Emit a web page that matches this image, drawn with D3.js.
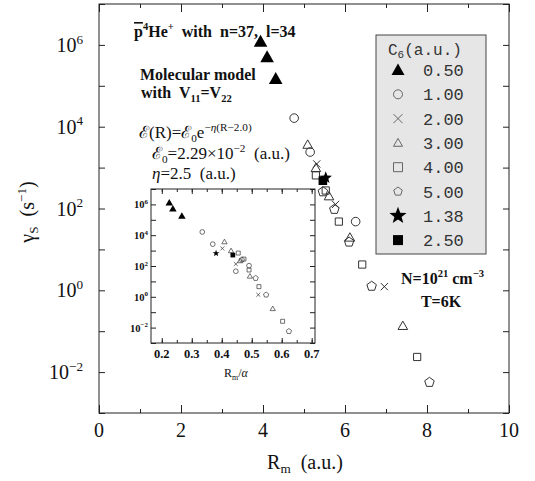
<!DOCTYPE html>
<html>
<head>
<meta charset="utf-8">
<script src="https://cdnjs.cloudflare.com/ajax/libs/d3/7.8.5/d3.min.js"></script>
<style>
  body { margin: 0; background: #fff; }
  text { font-family: "Liberation Serif", "Times New Roman", serif; fill: #111; }
</style>
</head>
<body>
<svg width="535" height="481"></svg>
<script>
// legend / series (C6 in a.u.)
var seriesLabels = ["0.50", "1.00", "2.00", "3.00", "4.00", "5.00", "1.38", "2.50"];
var seriesShapes = ["triangle", "circle", "cross", "triangle", "square", "pentagon", "star", "square"];
var seriesFilled = [true, false, false, false, false, false, true, true];

// main panel: Rm (a.u.) and log10(gamma_S)
var mainRm = [
  [3.94, 4.10, 4.31],
  [4.76, 5.15, 6.26],
  [5.31, 5.77, 6.96],
  [5.09, 5.29, 5.61, 6.12, 7.41],
  [5.29, 5.53, 5.85, 6.42, 7.76],
  [5.46, 5.74, 6.10, 6.65, 8.06],
  [5.53],
  [5.46]
];
var mainLogG = [
  [6.08, 5.70, 5.17],
  [4.21, 3.38, 1.68],
  [3.09, 2.10, 0.09],
  [3.56, 2.99, 2.30, 1.29, -0.87],
  [2.81, 2.44, 1.68, 0.63, -1.63],
  [2.41, 1.98, 1.18, 0.10, -2.25],
  [2.75],
  [2.68]
];

// inset: Rm/alpha and log10(gamma_S)
var insetR = [
  [0.225, 0.237, 0.267],
  [0.335, 0.370, 0.447, 0.491],
  [0.402, 0.447, 0.522],
  [0.409, 0.431, 0.461, 0.494, 0.570],
  [0.455, 0.474, 0.491, 0.524, 0.603],
  [0.467, 0.513, 0.548, 0.624],
  [0.381],
  [0.437]
];
var insetLogG = [
  [6.11, 5.72, 5.25],
  [4.21, 3.42, 1.66, 2.02],
  [3.14, 2.13, 0.13],
  [3.57, 2.99, 2.34, 1.34, -0.77],
  [2.84, 2.45, 1.74, 0.66, -1.59],
  [2.41, 1.21, 0.13, -2.24],
  [2.82],
  [2.71]
];

var xTicks = [0, 2, 4, 6, 8, 10];
var yTickExp = [-2, 0, 2, 4, 6];
var insetXTicks = [0.2, 0.3, 0.4, 0.5, 0.6, 0.7];

var svg = d3.select("svg");

// symbol paths
function sym(shape, r) {
  if (shape == "circle") return d3.symbol().type(d3.symbolCircle).size(Math.PI * r * r)();
  if (shape == "square") return "M" + (-r) + "," + (-r) + "H" + r + "V" + r + "H" + (-r) + "Z";
  if (shape == "triangle") return "M0," + (-r) + "L" + r + "," + (0.75 * r) + "L" + (-r) + "," + (0.75 * r) + "Z";
  if (shape == "cross") return "M" + (-r) + "," + (-r) + "L" + r + "," + r + "M" + (-r) + "," + r + "L" + r + "," + (-r);
  var pts = [], n = shape == "star" ? 10 : 5;
  for (var i = 0; i < n; i++) {
    var a = -Math.PI / 2 + i * 2 * Math.PI / n;
    var rr = (shape == "star" && i % 2) ? r * 0.42 : r;
    pts.push([rr * Math.cos(a), rr * Math.sin(a)]);
  }
  return "M" + pts.join("L") + "Z";
}

// text with sub/superscripts
function rich(g, x, y, parts, fs, anchor) {
  var t = g.append("text").attr("x", x).attr("y", y)
    .attr("font-size", fs).attr("text-anchor", anchor || "start")
    .style("white-space", "pre");
  var cur = 0;
  parts.forEach(function(p) {
    var target = p.k == "sup" ? -0.42 * fs : p.k == "sub" ? 0.22 * fs : 0;
    var ts = t.append("tspan").attr("dy", target - cur).text(p.t);
    if (p.k) ts.attr("font-size", fs * 0.66);
    if (p.it) ts.attr("font-style", "italic");
    if (p.over) ts.style("text-decoration", "overline");
    cur = target;
  });
  return t;
}

// ---------------- main panel ----------------
var x = d3.scaleLinear().domain([0, 10]).range([99, 509]);
var y = d3.scaleLog().domain([1e-3, 1e7]).range([413, 4]);
var decades = d3.range(-3, 8).map(function(e) { return Math.pow(10, e); });

function tickAxis(g, axis) { g.call(axis); g.select(".domain").remove(); g.selectAll("line").attr("stroke", "#222"); }

svg.append("g").attr("transform", "translate(0,413)").call(tickAxis, d3.axisBottom(x).tickValues(xTicks).tickSize(-8).tickFormat(""));
svg.append("g").attr("transform", "translate(0,413)").call(tickAxis, d3.axisBottom(x).tickValues([1, 3, 5, 7, 9]).tickSize(-4).tickFormat(""));
svg.append("g").attr("transform", "translate(0,4)").call(tickAxis, d3.axisTop(x).tickValues(xTicks).tickSize(-8).tickFormat(""));
svg.append("g").attr("transform", "translate(0,4)").call(tickAxis, d3.axisTop(x).tickValues([1, 3, 5, 7, 9]).tickSize(-4).tickFormat(""));
svg.append("g").attr("transform", "translate(99,0)").call(tickAxis, d3.axisLeft(y).tickValues(decades).tickSize(-6).tickFormat(""));
svg.append("g").attr("transform", "translate(509,0)").call(tickAxis, d3.axisRight(y).tickValues(decades).tickSize(-6).tickFormat(""));

svg.append("rect").attr("x", 99).attr("y", 4).attr("width", 410).attr("height", 409)
  .attr("fill", "none").attr("stroke", "#222").attr("stroke-width", 1);

xTicks.forEach(function(v) {
  svg.append("text").attr("x", x(v)).attr("y", 437).attr("text-anchor", "middle")
    .attr("font-size", 20).text(v);
});
yTickExp.forEach(function(e) {
  rich(svg, 83, y(Math.pow(10, e)) + 7, [{ t: "10" }, { t: e < 0 ? "\u2212" + (-e) : "" + e, k: "sup" }], 20, "end");
});

rich(svg, 305, 469, [{ t: "R" }, { t: "m", k: "sub" }, { t: "  (a.u.)" }], 20, "middle");
var yl = rich(svg, 0, 0, [{ t: "\u03b3" }, { t: "S", k: "sub" }, { t: "  (s" }, { t: "\u22121", k: "sup" }, { t: ")" }], 20, "middle");
yl.attr("transform", "translate(34,212) rotate(-90)");

// annotations
var ann = svg.append("g").attr("font-weight", "bold");
rich(ann, 134, 37, [{ t: "p", over: true }, { t: "4", k: "sup" }, { t: "He" }, { t: "+", k: "sup" }, { t: "  with  n=37,  l=34" }], 16).attr("font-weight", "bold");
ann.append("text").attr("x", 140).attr("y", 80).attr("font-size", 16).attr("font-weight", "bold").text("Molecular model");
rich(ann, 141, 98, [{ t: "with  V" }, { t: "11", k: "sub" }, { t: "=V" }, { t: "22", k: "sub" }], 16).attr("font-weight", "bold");
rich(ann, 401, 284, [{ t: "N=10" }, { t: "21", k: "sup" }, { t: " cm" }, { t: "\u22123", k: "sup" }], 16).attr("font-weight", "bold");
ann.append("text").attr("x", 441).attr("y", 307).attr("font-size", 16).attr("font-weight", "bold")
  .attr("text-anchor", "middle").text("T=6K");

rich(svg, 139, 138, [{ t: "\u2130(R)=\u2130" }, { t: "0", k: "sub" }, { t: "e" }, { t: "\u2212", k: "sup" }, { t: "\u03b7", k: "sup", it: true }, { t: "(R\u22122.0)", k: "sup" }], 17);
rich(svg, 152, 159, [{ t: "\u2130" }, { t: "0", k: "sub" }, { t: "=2.29\u00d710" }, { t: "\u22122", k: "sup" }, { t: "  (a.u.)" }], 17);
rich(svg, 152, 179, [{ t: "\u03b7", it: true }, { t: "=2.5  (a.u.)" }], 17);

// ---------------- legend ----------------
var lg = svg.append("g");
lg.append("rect").attr("x", 376).attr("y", 35).attr("width", 110).attr("height", 219)
  .attr("fill", "#e6e6e6").attr("stroke", "#444").attr("stroke-width", 1);
var lt = lg.append("text").attr("x", 388).attr("y", 55).attr("font-size", 16)
  .style("font-family", "'Liberation Mono', 'Courier New', monospace").style("fill", "#333");
lt.append("tspan").text("C");
lt.append("tspan").attr("font-size", 11).attr("dy", 3).text("6");
lt.append("tspan").attr("dy", -3).text("(a.u.)");
seriesLabels.forEach(function(lab, i) {
  var cy = 70 + i * 24.3;
  var big = seriesShapes[i] == "star" ? 9 : (seriesFilled[i] ? 6.5 : 4.5);
  if (seriesShapes[i] == "square" && seriesFilled[i]) big = 5;
  lg.append("path").attr("d", sym(seriesShapes[i], big))
    .attr("transform", "translate(398," + cy + ")")
    .attr("fill", seriesFilled[i] ? "#000" : "none")
    .attr("stroke", seriesFilled[i] ? "none" : "#666").attr("stroke-width", 1);
  lg.append("text").attr("x", 423).attr("y", cy + 6).attr("font-size", 17)
    .style("font-family", "'Liberation Mono', 'Courier New', monospace").style("fill", "#333")
    .text(lab);
});

// ---------------- inset ----------------
var ix = d3.scaleLinear().domain([0.164, 0.711]).range([151, 315]);
var iy = d3.scaleLog().domain([1e-3, 1e7]).range([343, 189]);
var ins = svg.append("g");
ins.append("rect").attr("x", 151).attr("y", 189).attr("width", 164).attr("height", 154)
  .attr("fill", "#fff").attr("stroke", "#222");
var iMinor = [0.2, 0.25, 0.3, 0.35, 0.4, 0.45, 0.5, 0.55, 0.6, 0.65, 0.7];
ins.append("g").attr("transform", "translate(0,343)").call(tickAxis, d3.axisBottom(ix).tickValues(insetXTicks).tickSize(-5).tickFormat(""));
ins.append("g").attr("transform", "translate(0,343)").call(tickAxis, d3.axisBottom(ix).tickValues(iMinor).tickSize(-3).tickFormat(""));
ins.append("g").attr("transform", "translate(0,189)").call(tickAxis, d3.axisTop(ix).tickValues(insetXTicks).tickSize(-5).tickFormat(""));
ins.append("g").attr("transform", "translate(0,189)").call(tickAxis, d3.axisTop(ix).tickValues(iMinor).tickSize(-3).tickFormat(""));
ins.append("g").attr("transform", "translate(151,0)").call(tickAxis, d3.axisLeft(iy).tickValues(decades).tickSize(-5).tickFormat(""));
ins.append("g").attr("transform", "translate(315,0)").call(tickAxis, d3.axisRight(iy).tickValues(decades).tickSize(-5).tickFormat(""));
insetXTicks.forEach(function(v) {
  ins.append("text").attr("x", ix(v)).attr("y", 358).attr("text-anchor", "middle")
    .attr("font-size", 12.5).attr("font-weight", "bold").text(v.toFixed(1));
});
yTickExp.forEach(function(e) {
  rich(ins, 148, iy(Math.pow(10, e)) + 4, [{ t: "10" }, { t: e < 0 ? "\u2212" + (-e) : "" + e, k: "sup" }], 10.5, "end")
    .attr("font-weight", "bold");
});
rich(ins, 236, 377, [{ t: "R" }, { t: "m", k: "sub" }, { t: "/" }, { t: "\u03b1", it: true }], 12, "middle");

// ---------------- points ----------------
function drawSeries(g, xs, ysLog, sx, sy, scale) {
  var order = [1, 2, 3, 4, 5, 0, 7, 6];
  order.forEach(function(i) {
    var pts = xs[i].map(function(v, j) { return [v, ysLog[i][j]]; });
    var r;
    if (seriesShapes[i] == "star") r = 6.5;
    else if (seriesShapes[i] == "triangle" && seriesFilled[i]) r = 6.8;
    else if (seriesShapes[i] == "square") r = seriesFilled[i] ? 4.3 : 3.6;
    else if (seriesShapes[i] == "pentagon") r = 5;
    else if (seriesShapes[i] == "cross") r = 3.6;
    else if (seriesShapes[i] == "triangle") r = 4.8;
    else r = 4.3;
    g.selectAll(null).data(pts).enter().append("path")
      .attr("d", sym(seriesShapes[i], r * scale))
      .attr("transform", function(d) { return "translate(" + sx(d[0]) + "," + sy(Math.pow(10, d[1])) + ")"; })
      .attr("fill", seriesFilled[i] ? "#000" : "none")
      .attr("stroke", seriesFilled[i] ? "none" : "#333")
      .attr("stroke-width", scale < 1 ? 0.7 : 1);
  });
}
drawSeries(svg.append("g"), mainRm, mainLogG, x, y, 1);
drawSeries(ins.append("g"), insetR, insetLogG, ix, iy, 0.55);
</script>
</body>
</html>
